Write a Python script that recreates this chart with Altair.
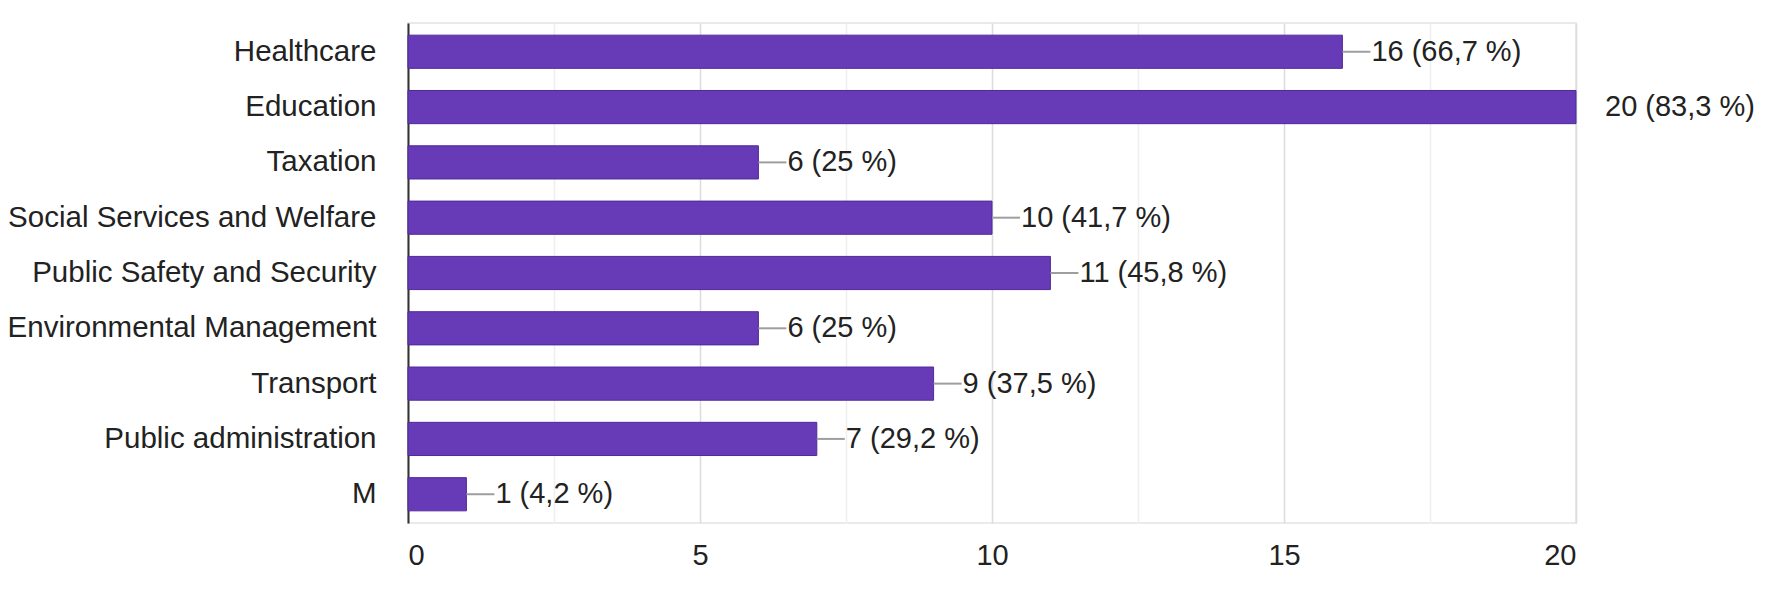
import altair as alt
import pandas as pd

categories = [
    "Healthcare",
    "Education",
    "Taxation",
    "Social Services and Welfare",
    "Public Safety and Security",
    "Environmental Management",
    "Transport",
    "Public administration",
    "M",
]
counts = [16, 20, 6, 10, 11, 6, 9, 7, 1]
percents = ["66,7", "83,3", "25", "41,7", "45,8", "25", "37,5", "29,2", "4,2"]
x_ticks = [0, 2.5, 5, 7.5, 10, 12.5, 15, 17.5, 20]

labels = [f"{c} ({p} %)" for c, p in zip(counts, percents)]
df = pd.DataFrame({"category": categories, "count": counts, "label": labels})
max_count = max(counts)
df["connector"] = df["count"] < max_count

FONT = "Liberation Sans"
FS = 29

y_enc = alt.Y(
    "category:N",
    sort=categories,
    title=None,
    scale=alt.Scale(paddingInner=0.4, paddingOuter=0.22),
    axis=alt.Axis(
        labelFont=FONT,
        labelFontSize=29.5,
        labelColor="#222222",
        labelPadding=32,
        ticks=False,
        domainColor="#333333",
        domainWidth=2,
        grid=False,
        labelLimit=600,
    ),
)

x_enc = alt.X(
    "count:Q",
    title=None,
    scale=alt.Scale(domain=[0, 20], nice=False, zero=True),
    axis=alt.Axis(
        values=x_ticks,
        labelExpr="datum.value % 5 === 0 ? format(datum.value, 'd') : ''",
        labelFont=FONT,
        labelFontSize=FS,
        labelColor="#222222",
        labelPadding=18,
        ticks=False,
        domain=False,
        grid=True,
        gridColor={
            "condition": {"test": "datum.value % 5 === 0", "value": "#dcdcdc"},
            "value": "#efefef",
        },
        gridWidth=1.5,
    ),
)

base = alt.Chart(df)

bars = base.mark_bar(
    color="#673ab7", stroke="#51299a", strokeWidth=1
).encode(x=x_enc, y=y_enc)

connectors = base.transform_filter("datum.connector").mark_rule(
    color="#9e9e9e", strokeWidth=2, x2Offset=28
).encode(
    x=alt.X("count:Q"),
    x2=alt.X2("count"),
    y=alt.Y("category:N", sort=categories, bandPosition=0.5),
)

texts = base.mark_text(
    align="left",
    baseline="middle",
    dx=29,
    font=FONT,
    fontSize=FS,
    color="#222222",
).encode(
    x=alt.X("count:Q"),
    y=alt.Y("category:N", sort=categories),
    text="label:N",
)

chart = (
    alt.layer(bars, connectors, texts)
    .properties(
        width=1168,
        height=500,
        autosize=alt.AutoSizeParams(type="none"),
        padding={"left": 400, "top": 15, "right": 188, "bottom": 59},
        background="white",
    )
    .configure_view(stroke="#e3e3e3", strokeWidth=1.5)
)

chart.save("out.html", embed_options={"renderer": "svg", "actions": False})
